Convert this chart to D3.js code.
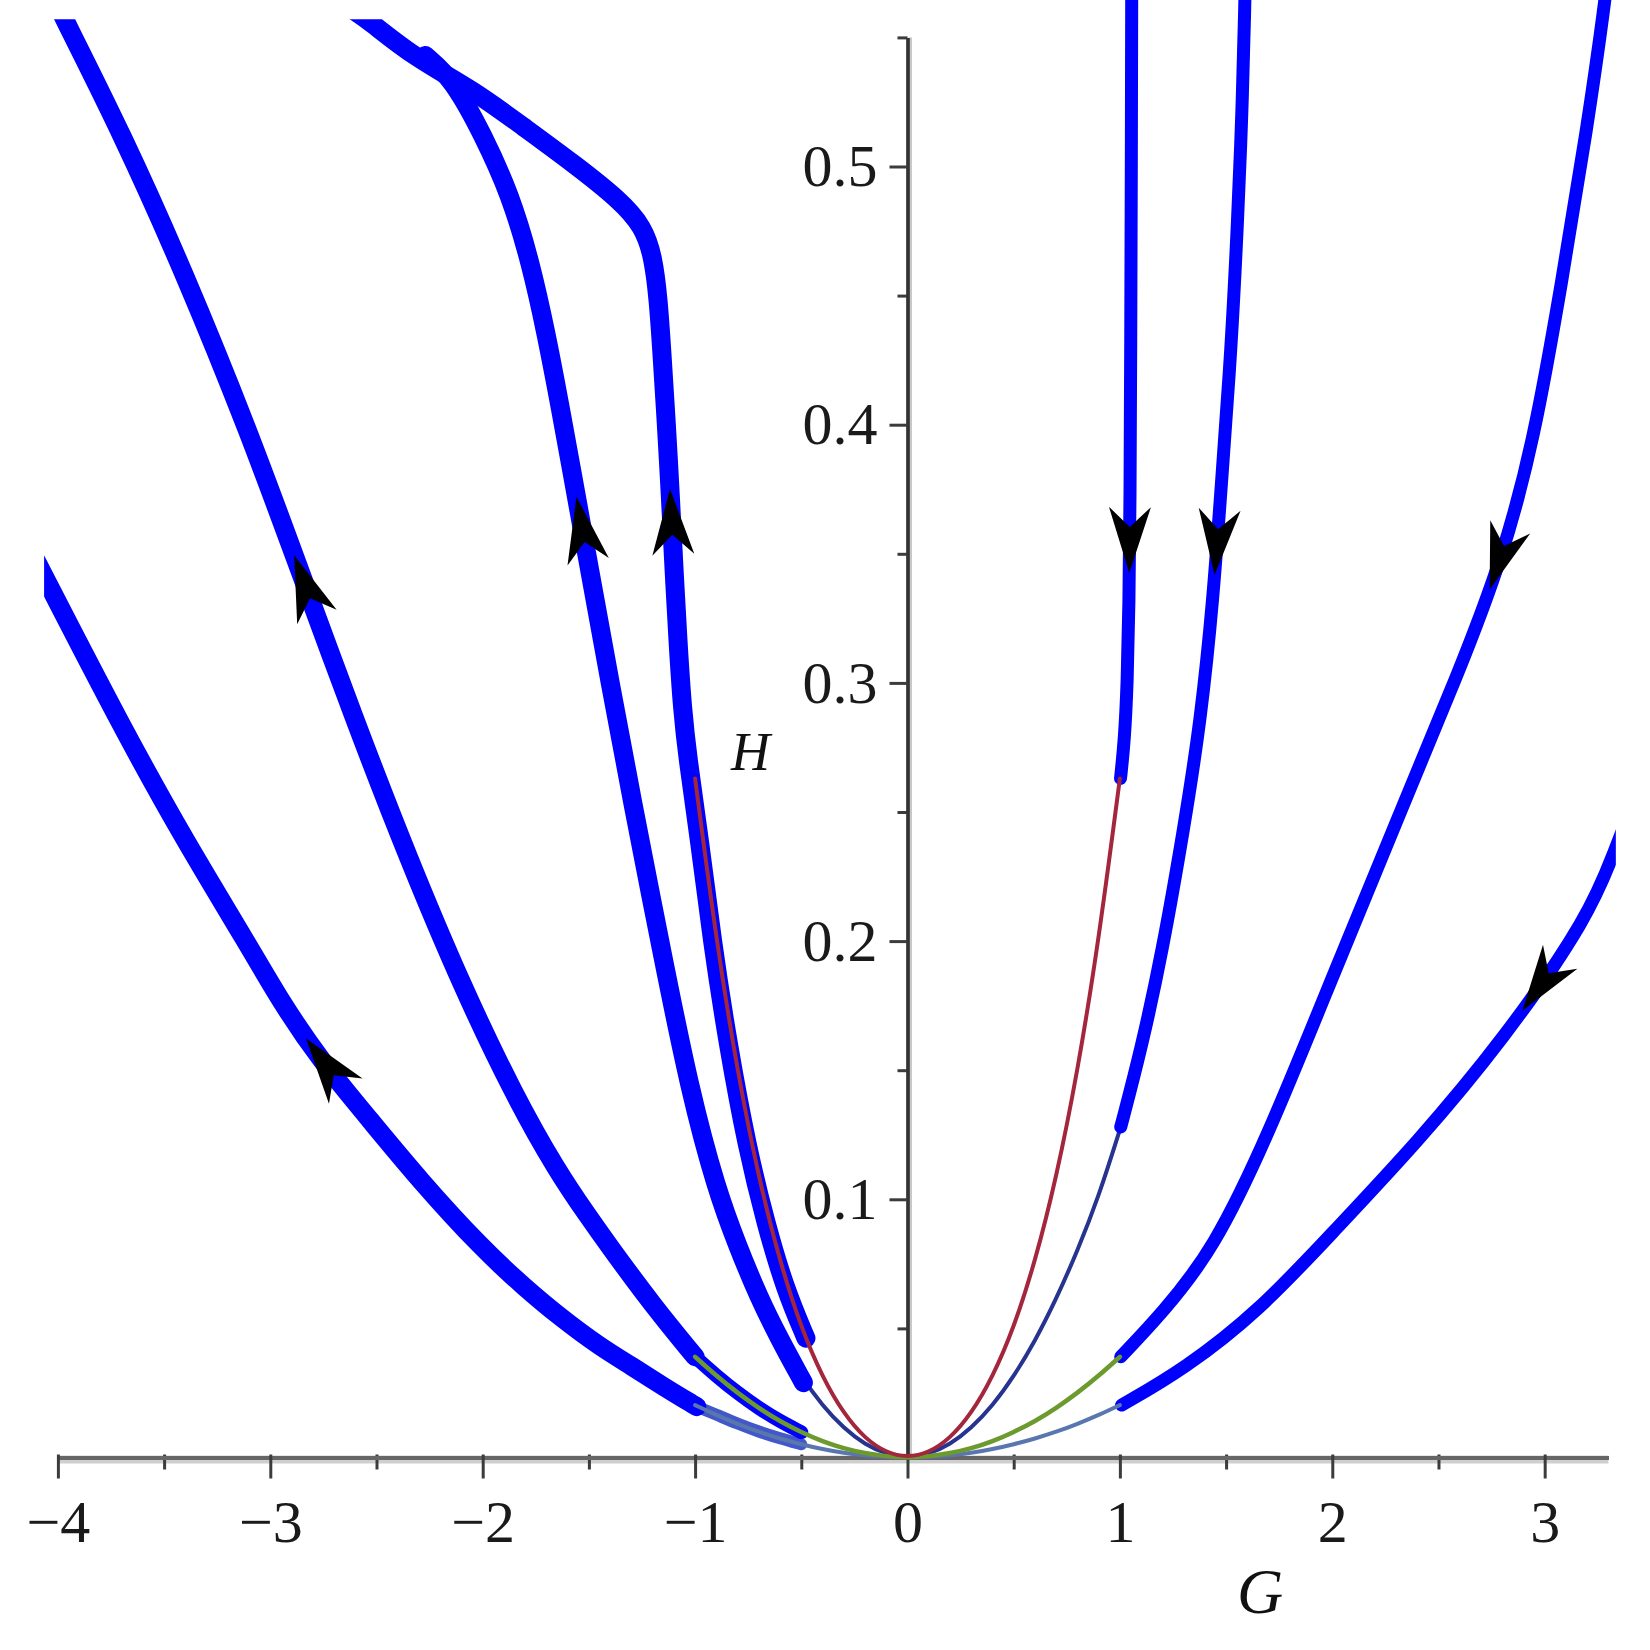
<!DOCTYPE html>
<html><head><meta charset="utf-8">
<script src="https://cdn.jsdelivr.net/npm/d3@7"></script>
<style>body{margin:0;background:#fff}svg{display:block}</style>
</head><body>
<svg id="chart" width="1650" height="1650"></svg>
<script>
// ---------- data (G, H) ----------
const curveA = [[-4.10,0.347],[-3.70,0.283],[-3.40,0.2386],[-3.10,0.198],[-2.955,0.1772],[-2.766,0.154],[-2.53,0.1307],[-2.30,0.1077],[-2.00,0.0807],[-1.80,0.0657],[-1.636,0.0544],[-1.448,0.0429],[-1.30,0.0355],[-1.15,0.0275],[-0.992,0.0197]];
const curveAExt = [[-0.992,0.0197],[-0.9,0.0166],[-0.8,0.0131],[-0.7,0.0100],[-0.6,0.0074],[-0.5,0.0051]];
const curveB = [[-4.02,0.566],[-3.97,0.557],[-3.70,0.513],[-3.40,0.458],[-3.10,0.397],[-2.89,0.350],[-2.60,0.285],[-2.35,0.232],[-2.10,0.183],[-1.85,0.140],[-1.65,0.111],[-1.50,0.093],[-1.414,0.083],[-1.20,0.059],[-1.00,0.039]];
const curveBExt = [[-1.0,0.039],[-0.9,0.0316],[-0.8,0.025],[-0.7,0.0191],[-0.6,0.014],[-0.5,0.0098]];
const curveC = [[-2.27,0.543],[-2.142,0.534],[-1.994,0.5115],[-1.870,0.489],[-1.775,0.463],[-1.70,0.435],[-1.64,0.409],[-1.589,0.386],[-1.495,0.343],[-1.40,0.300],[-1.30,0.256],[-1.15,0.193],[-1.024,0.142],[-0.90,0.104],[-0.80,0.082],[-0.70,0.062],[-0.60,0.0455],[-0.49,0.029]];
const curveD = [[-2.60,0.560],[-2.539,0.5567],[-2.327,0.5425],[-2.044,0.5296],[-1.809,0.5154],[-1.573,0.5012],[-1.354,0.487],[-1.244,0.4767],[-1.197,0.4651],[-1.173,0.4484],[-1.157,0.429],[-1.135,0.40],[-1.117,0.3737],[-1.10,0.345],[-1.08,0.315],[-1.06,0.29],[-1.035,0.271],[-0.98,0.24],[-0.92,0.20],[-0.845,0.16],[-0.755,0.12],[-0.665,0.09],[-0.575,0.065],[-0.478,0.0462]];
const curveE = [[1.056,0.58],[1.054,0.50],[1.051,0.43],[1.048,0.37],[1.043,0.33],[1.035,0.30],[1.022,0.278],[1.003,0.263]];
const curveF = [[1.592,0.58],[1.589,0.5645],[1.575,0.52],[1.555,0.48],[1.525,0.43],[1.479,0.3786],[1.44,0.333],[1.38,0.285],[1.30,0.243],[1.20,0.196],[1.10,0.158],[1.004,0.128]];
const curveG = [[3.32,0.59],[3.283,0.563],[3.20,0.515],[3.08,0.455],[2.95,0.394],[2.80,0.348],[2.60,0.305],[2.30,0.246],[2.00,0.186],[1.70,0.125],[1.44,0.0804],[1.20,0.056],[1.004,0.039]];
const curveH = [[3.40,0.250],[3.333,0.236],[3.213,0.210],[2.805,0.1617],[2.40,0.122],[2.00,0.087],[1.66,0.0571],[1.30,0.034],[1.008,0.0203]];

const thinG   = [-1,-0.9,-0.8,-0.7,-0.6,-0.5,-0.4,-0.3,-0.2,-0.1,0,0.1,0.2,0.3,0.4,0.5,0.6,0.7,0.8,0.9,1];
const redH    = [0.263,0.200,0.149,0.108,0.0756,0.050,0.031,0.0169,0.0073,0.0018,0,0.0018,0.0073,0.0169,0.031,0.050,0.0756,0.108,0.149,0.200,0.263];
const navyH   = [0.127,0.101,0.080,0.0613,0.045,0.0313,0.020,0.0113,0.005,0.00125,0,0.00125,0.005,0.0113,0.020,0.0313,0.045,0.0613,0.080,0.101,0.127];
const greenH  = [0.039,0.0316,0.025,0.0191,0.014,0.0098,0.0062,0.0035,0.0016,0.0004,0,0.0004,0.0016,0.0035,0.0062,0.0098,0.014,0.0191,0.025,0.0316,0.039];
const steelH  = [0.0203,0.0164,0.013,0.0099,0.0073,0.0051,0.0032,0.0018,0.0008,0.0002,0,0.0002,0.0008,0.0018,0.0032,0.0051,0.0073,0.0099,0.013,0.0164,0.0203];

const arrowCurve  = ['A','B','C','D','E','F','G','H'];
const arrowTipG   = [-2.829,-2.892,-1.597,-1.117,1.0475,1.448,2.75,2.915];
const arrowTipH   = [0.1624,0.3495,0.3715,0.375,0.3424,0.3418,0.336,0.172];
const arrowToward = ['start','start','start','start','end','end','end','end'];

const xTicks = [-4,-3,-2,-1,0,1,2,3];
const xTickLabels = ['\u22124','\u22123','\u22122','\u22121','0','1','2','3'];
const xMinor = [-3.5,-2.5,-1.5,-0.5,0.5,1.5,2.5];
const yTicks = [0.1,0.2,0.3,0.4,0.5];
const yTickLabels = ['0.1','0.2','0.3','0.4','0.5'];
const yMinor = [0.05,0.15,0.25,0.35,0.45,0.55];

// ---------- drawing ----------
const svg = d3.select('#chart');
const x = d3.scaleLinear().domain([-4, 3.3]).range([57.9, 1608.4]);
const y = d3.scaleLinear().domain([0, 0.55]).range([1457.5, 37.4]);
const FONT = "'Liberation Serif','Times New Roman',serif";

const defs = svg.append('defs');
defs.append('clipPath').attr('id','clipL').append('rect')
  .attr('x', x(-4.065)).attr('y', y(0.557))
  .attr('width', x(0) - x(-4.065)).attr('height', y(-0.03) - y(0.557));
defs.append('clipPath').attr('id','clipR').append('rect')
  .attr('x', x(0)).attr('y', 0)
  .attr('width', x(3.335) - x(0)).attr('height', y(-0.03));

// axes
const xg = svg.append('g').attr('transform', `translate(0,${y(0)})`);
xg.append('line').attr('x1', x(-4)).attr('x2', x(3.3)).attr('y1', 2).attr('y2', 2)
  .attr('stroke', '#cfcfcf').attr('stroke-width', 8);
const xMin = svg.append('g').attr('transform', `translate(0,${y(0)})`)
  .call(d3.axisBottom(x).tickValues(xMinor).tickSize(12).tickSizeOuter(0).tickFormat(''));
const xMaj = svg.append('g').attr('transform', `translate(0,${y(0)})`)
  .call(d3.axisBottom(x).tickValues(xTicks).tickSize(21).tickSizeOuter(0)
        .tickFormat((d,i) => xTickLabels[i]));
[xMin, xMaj].forEach(g => {
  g.select('.domain').attr('stroke', '#666').attr('stroke-width', 4);
  g.selectAll('.tick line').attr('stroke', '#3c3c3c').attr('stroke-width', 3).attr('y1', -3);
});
xMaj.selectAll('.tick text').attr('y', 84.5).attr('dy', 0)
  .attr('font-family', FONT).attr('font-size', 60).attr('fill', '#1a1a1a');

const yg = svg.append('g').attr('transform', `translate(${x(0)},0)`);
yg.append('line').attr('x1', 3).attr('x2', 3).attr('y1', y(0)).attr('y2', y(0.55))
  .attr('stroke', '#c8c8c8').attr('stroke-width', 3);
const yMin = svg.append('g').attr('transform', `translate(${x(0)},0)`)
  .call(d3.axisLeft(y).tickValues(yMinor).tickSize(10).tickSizeOuter(0).tickFormat(''));
const yMaj = svg.append('g').attr('transform', `translate(${x(0)},0)`)
  .call(d3.axisLeft(y).tickValues(yTicks).tickSize(18).tickSizeOuter(0).tickPadding(12)
        .tickFormat((d,i) => yTickLabels[i]));
[yMin, yMaj].forEach(g => {
  g.select('.domain').attr('stroke', '#333').attr('stroke-width', 3.2);
  g.selectAll('.tick line').attr('stroke', '#3c3c3c').attr('stroke-width', 3);
});
yMaj.selectAll('.tick text').attr('font-family', FONT).attr('font-size', 60).attr('fill', '#1a1a1a');

// curves
const line = d3.line().x(d => x(d[0])).y(d => y(d[1])).curve(d3.curveBasis);
const thin = hs => thinG.map((g,i) => [g, hs[i]]);

function drawPath(data, color, width, clip) {
  const p = svg.append('path').attr('d', line(data)).attr('fill', 'none')
    .attr('stroke', color).attr('stroke-width', width)
    .attr('stroke-linecap', 'round').attr('stroke-linejoin', 'round');
  if (clip) p.attr('clip-path', `url(#${clip})`);
  return p;
}

drawPath(thin(navyH), '#26338f', 4);

drawPath(curveAExt, '#4258c8', 12);
drawPath(curveBExt, '#0000ff', 14);
const paths = {};
paths.A = drawPath(curveA, '#0000ff', 19, 'clipL');
paths.B = drawPath(curveB, '#0000ff', 19, 'clipL');
paths.C = drawPath(curveC, '#0000ff', 19, 'clipL');
paths.D = drawPath(curveD, '#0000ff', 19, 'clipL');
paths.E = drawPath(curveE, '#0000ff', 13, 'clipR');
paths.F = drawPath(curveF, '#0000ff', 13, 'clipR');
paths.G = drawPath(curveG, '#0000ff', 13, 'clipR');
paths.H = drawPath(curveH, '#0000ff', 13, 'clipR');

drawPath(thin(steelH), '#5a76ae', 4);
drawPath(thin(greenH), '#6c9a2e', 4.5);
drawPath(thin(redH), '#a3263c', 4);

// arrows
arrowCurve.forEach((c, i) => {
  const node = paths[c].node();
  const L = node.getTotalLength();
  const tx = x(arrowTipG[i]), ty = y(arrowTipH[i]);
  let best = 0, bd = Infinity;
  for (let l = 0; l <= L; l += 1) {
    const p = node.getPointAtLength(l);
    const d = (p.x - tx) ** 2 + (p.y - ty) ** 2;
    if (d < bd) { bd = d; best = l; }
  }
  const tip = node.getPointAtLength(best);
  const baseL = arrowToward[i] === 'start' ? Math.min(L, best + 55) : Math.max(0, best - 55);
  const base = node.getPointAtLength(baseL);
  const ang = Math.atan2(tip.y - base.y, tip.x - base.x) * 180 / Math.PI;
  svg.append('path')
    .attr('d', 'M0,0 L-66,-21 L-46,0 L-66,21 Z')
    .attr('fill', '#000')
    .attr('transform', `translate(${tip.x},${tip.y}) rotate(${ang})`);
});

// axis titles
svg.append('text').attr('x', 1260).attr('y', 1613).attr('text-anchor', 'middle')
  .attr('font-family', FONT).attr('font-style', 'italic').attr('font-size', 64).attr('fill', '#111').text('G');
svg.append('text').attr('x', 731).attr('y', 770)
  .attr('font-family', FONT).attr('font-style', 'italic').attr('font-size', 54).attr('fill', '#111').text('H');
</script>
</body></html>
